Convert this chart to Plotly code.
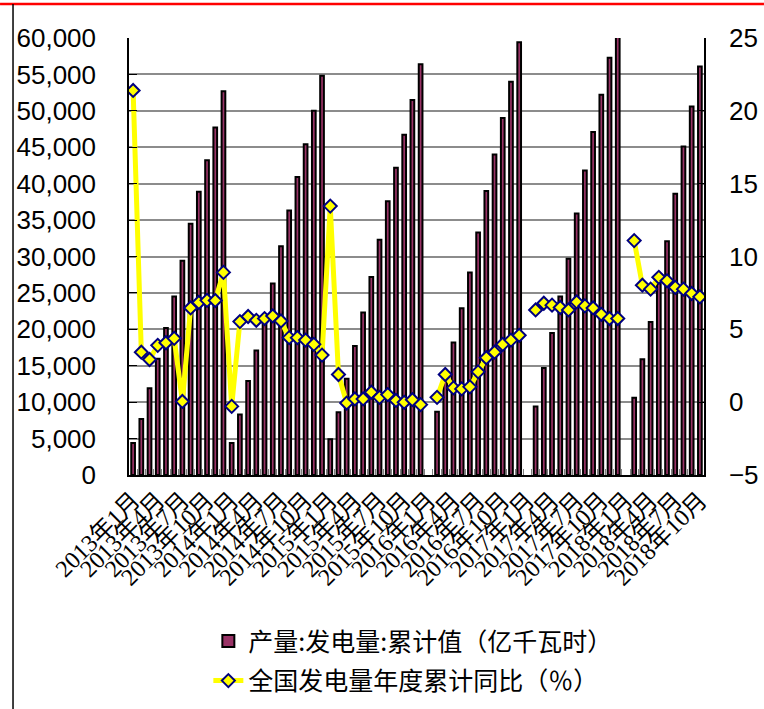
import plotly.graph_objects as go

# ---------------- data ----------------
years = [2013, 2014, 2015, 2016, 2017, 2018]
categories = [f"{y}年{m}月" for y in years for m in range(1, 13)][:70]
tick_labels = [c for c in categories if c.split("年")[1] in ("1月", "4月", "7月", "10月")]

gen_2013 = [4400, 7700, 11900, 15950, 20200, 24500, 29400, 34500, 38900, 43200, 47700, 52700]
gen_2014 = [4400, 8300, 12900, 17100, 21800, 26300, 31400, 36300, 40900, 45400, 50000, 54800]
gen_2015 = [4900, 8600, 13200, 17700, 22300, 27200, 32300, 37600, 42200, 46700, 51500, 56400]
gen_2016 = [None, 8700, 13000, 18200, 22900, 27800, 33300, 39000, 44000, 49000, 54000, 59400]
gen_2017 = [None, 9400, 14700, 19500, 24500, 29700, 35900, 41800, 47100, 52200, 57300, 62800]
gen_2018 = [None, 10600, 15900, 21000, 26400, 32100, 38600, 45100, 50600, 56100]
generation = gen_2013 + gen_2014 + gen_2015 + gen_2016 + gen_2017 + gen_2018

yoy_2013 = [21.4, 3.43, 2.93, 3.9, 4.08, 4.38, 0.05, 6.47, 6.84, 6.99, 6.98, 8.91]
yoy_2014 = [-0.29, 5.53, 5.88, 5.62, 5.74, 5.92, 5.57, 4.43, 4.43, 4.26, 3.97, 3.23]
yoy_2015 = [13.46, 1.9, -0.06, 0.22, 0.22, 0.68, 0.33, 0.52, 0.12, -0.01, 0.17, -0.17]
yoy_2016 = [None, 0.33, 1.9, 0.98, 0.91, 1.05, 2.08, 3.05, 3.43, 3.97, 4.26, 4.59]
yoy_2017 = [None, 6.33, 6.79, 6.66, 6.5, 6.33, 6.88, 6.61, 6.47, 6.03, 5.74, 5.74]
yoy_2018 = [None, 11.09, 8.03, 7.76, 8.57, 8.33, 7.88, 7.76, 7.46, 7.23]
yoy = yoy_2013 + yoy_2014 + yoy_2015 + yoy_2016 + yoy_2017 + yoy_2018

bar_name = "产量:发电量:累计值（亿千瓦时）"
line_name = "全国发电量年度累计同比（％）"

# ---------------- figure ----------------
fig = go.Figure()
fig.add_trace(go.Bar(
    x=categories, y=generation, name=bar_name, legendgroup="a",
    marker=dict(color="#993366", line=dict(color="black", width=2)),
    yaxis="y",
))
fig.add_trace(go.Scatter(
    x=categories, y=yoy, name=line_name, legendgroup="b",
    mode="lines+markers", connectgaps=False,
    line=dict(color="#FFFF00", width=5),
    marker=dict(symbol="diamond", size=10, color="#FFFF00",
                line=dict(color="#000080", width=2)),
    yaxis="y2",
))

ticktext = [c if c in tick_labels else "" for c in categories]

fig.update_layout(
    width=764, height=709,
    margin=dict(l=129, r=60, t=38, b=234, autoexpand=False),
    paper_bgcolor="white", plot_bgcolor="white",
    bargap=0.55,
    showlegend=True,
    legend=dict(
        x=0.138, y=-0.328, xanchor="left", yanchor="top",
        orientation="v", tracegroupgap=4,
        font=dict(family="Noto Sans CJK SC", size=25, color="black"),
        bgcolor="rgba(0,0,0,0)",
    ),
    xaxis=dict(
        type="category", categoryorder="array", categoryarray=categories,
        range=[-0.5, len(categories) - 0.5], autorange=False,
        tickmode="array", tickvals=categories, ticktext=ticktext,
        tickangle=-45, tickson="boundaries",
        ticks="inside", ticklen=6, tickcolor="#808080",
        tickfont=dict(family="Liberation Serif, Noto Sans CJK SC", size=24, color="black"),
        showline=True, linecolor="black", linewidth=1.5,
        showgrid=False, automargin=False, zeroline=False,
    ),
    yaxis=dict(
        range=[0, 60000], dtick=5000, tickformat=",d",
        ticks="inside", ticklen=8, tickcolor="black",
        ticklabelstandoff=26,
        tickfont=dict(family="Liberation Sans", size=26, color="black"),
        showline=True, linecolor="black", linewidth=1.5,
        showgrid=True, gridcolor="#8c8c8c", gridwidth=1.5,
        zeroline=False, automargin=False,
    ),
    yaxis2=dict(
        range=[-5, 25], dtick=5, overlaying="y", side="right",
        ticks="inside", ticklen=7, tickcolor="black",
        ticklabelstandoff=18,
        tickfont=dict(family="Liberation Sans", size=26, color="black"),
        showline=True, linecolor="black", linewidth=1.5,
        showgrid=False, zeroline=False, automargin=False,
    ),
    shapes=[
        dict(type="line", xref="paper", yref="paper",
             x0=-0.2243, x1=1.1043, y0=1.078, y1=1.078,
             line=dict(color="#ff0000", width=2.5)),
        dict(type="line", xref="paper", yref="paper",
             x0=-0.2017, x1=-0.2017, y0=1.078, y1=-0.54,
             line=dict(color="black", width=1.5)),
    ],
)

fig.write_html("out.html")
